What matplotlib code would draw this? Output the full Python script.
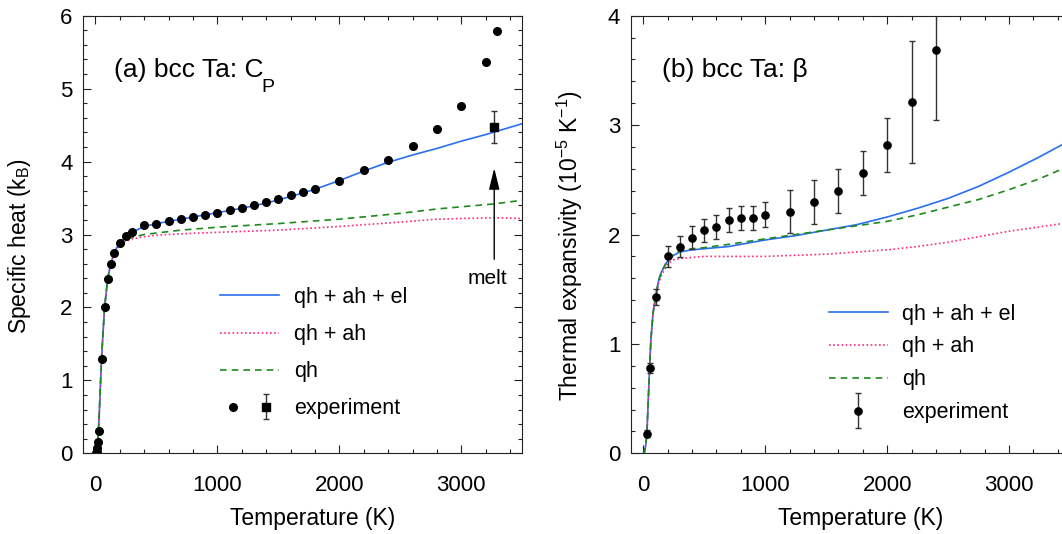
#!/usr/bin/env python3
# -*- coding: utf-8 -*-

"""
Heat capacity and thermal expansion of bcc Ta:
quasiharmonic (qh), anharmonic (ah) and electronic (el) contributions
compared with experiment.
"""

import matplotlib
matplotlib.use('Agg')
import matplotlib.pyplot as plt
from matplotlib.ticker import MultipleLocator
from matplotlib.legend_handler import HandlerTuple, HandlerErrorbar
from matplotlib.container import ErrorbarContainer

plt.rcParams['font.family'] = ['Liberation Sans', 'DejaVu Sans']
plt.rcParams['mathtext.fontset'] = 'custom'
plt.rcParams['mathtext.rm'] = 'Liberation Sans'
plt.rcParams['mathtext.it'] = 'Liberation Sans:italic'

BLUE = '#2a6ff0'
PINK = '#ff2a80'
GREEN = '#1d8a1d'

# ---- (a) specific heat, k_B per atom ----
cp_T_full = [0, 10, 20, 25, 30, 40, 50, 60, 75, 100, 125, 150, 175, 200, 250,
             300, 400, 500, 600, 700, 800, 900, 1000, 1200, 1400, 1600, 1800,
             2000, 2200, 2400, 2600, 2800, 3000, 3200, 3400, 3500]
cp_full = [0, 0.02, 0.16, 0.31, 0.5, 0.9, 1.29, 1.6, 2.0, 2.39, 2.6, 2.73, 2.82,
           2.88, 2.97, 3.03, 3.11, 3.15, 3.18, 3.21, 3.24, 3.27, 3.30, 3.36,
           3.43, 3.52, 3.62, 3.74, 3.87, 3.99, 4.09, 4.18, 4.28, 4.37, 4.47, 4.52]

cp_T_qh = [0, 10, 20, 25, 30, 40, 50, 60, 75, 100, 125, 150, 175, 200, 250,
           300, 400, 500, 700, 1000, 1500, 2000, 2500, 2800, 3000, 3270, 3500]
cp_qh = [0, 0.02, 0.16, 0.31, 0.5, 0.9, 1.29, 1.6, 2.0, 2.39, 2.6, 2.72, 2.81,
         2.87, 2.93, 2.96, 3.00, 3.02, 3.06, 3.10, 3.15, 3.21, 3.29, 3.35,
         3.38, 3.42, 3.47]
cp_T_ah = [0, 10, 20, 25, 30, 40, 50, 60, 75, 100, 125, 150, 175, 200, 250,
           300, 400, 500, 700, 1000, 1500, 2000, 2500, 2800, 3000, 3270, 3500]
cp_ah = [0, 0.02, 0.16, 0.31, 0.5, 0.9, 1.29, 1.6, 2.0, 2.39, 2.59, 2.71, 2.80,
         2.86, 2.91, 2.94, 2.97, 2.99, 3.01, 3.03, 3.06, 3.11, 3.17, 3.21,
         3.22, 3.23, 3.22]

cp_exp_T = [5, 10, 15, 20, 25, 50, 75, 100, 125, 150, 200, 250, 300, 400, 500,
            600, 700, 800, 900, 1000, 1100, 1200, 1300, 1400, 1500, 1600, 1700,
            1800, 2000, 2200, 2400, 2600, 2800, 3000, 3200, 3290]
cp_exp = [0.0, 0.02, 0.07, 0.16, 0.31, 1.29, 2.00, 2.39, 2.60, 2.74, 2.89, 2.98,
          3.04, 3.13, 3.15, 3.18, 3.21, 3.24, 3.27, 3.30, 3.33, 3.36, 3.40,
          3.44, 3.48, 3.54, 3.58, 3.63, 3.74, 3.88, 4.02, 4.21, 4.44, 4.76,
          5.36, 5.79]

cp_melt_T = [3270]
cp_melt = [4.47]
cp_melt_err = [0.22]
T_melt = 3270

# ---- (b) thermal expansivity, 1e-5 / K ----
b_T_full = [0, 8, 20, 30, 40, 52, 63, 80, 104, 126, 150, 200, 250, 300, 400,
            500, 700, 1000, 1250, 1500, 1750, 2000, 2250, 2500, 2750, 3000,
            3250, 3500]
b_full = [0, 0, 0.07, 0.18, 0.45, 0.78, 1.04, 1.28, 1.45, 1.58, 1.66, 1.76,
          1.81, 1.84, 1.86, 1.87, 1.89, 1.95, 1.99, 2.04, 2.09, 2.16, 2.24,
          2.33, 2.44, 2.57, 2.71, 2.86]
b_T_qh = [0, 8, 20, 30, 40, 52, 63, 80, 104, 126, 150, 200, 250, 300, 400,
          500, 700, 1000, 1250, 1500, 1750, 2000, 2250, 2500, 2750, 3000,
          3250, 3500]
b_qh = [0, 0, 0.07, 0.18, 0.45, 0.78, 1.04, 1.28, 1.45, 1.58, 1.66, 1.77,
        1.82, 1.85, 1.87, 1.88, 1.91, 1.96, 2.00, 2.04, 2.08, 2.12, 2.18,
        2.25, 2.32, 2.41, 2.51, 2.63]
b_T_ah = [0, 8, 20, 30, 40, 52, 63, 80, 104, 126, 150, 200, 250, 300, 500,
          1000, 1500, 1750, 2000, 2250, 2500, 2750, 3000, 3250, 3500]
b_ah = [0, 0, 0.07, 0.18, 0.45, 0.78, 1.04, 1.27, 1.43, 1.55, 1.63, 1.73,
        1.77, 1.78, 1.80, 1.80, 1.82, 1.84, 1.86, 1.89, 1.93, 1.98, 2.03,
        2.07, 2.11]

b_exp_T = [30, 52, 104, 202, 300, 400, 500, 600, 700, 800, 900, 1000, 1200,
           1400, 1600, 1800, 2000, 2200, 2400]
b_exp = [0.18, 0.78, 1.43, 1.80, 1.89, 1.97, 2.04, 2.07, 2.13, 2.15, 2.15,
         2.18, 2.21, 2.30, 2.40, 2.56, 2.82, 3.21, 3.69]
b_exp_err = [0.03, 0.05, 0.075, 0.095, 0.10, 0.105, 0.105, 0.11, 0.11, 0.11,
             0.11, 0.115, 0.195, 0.20, 0.20, 0.20, 0.245, 0.555, 0.64]

LABELS = ['qh + ah + el', 'qh + ah', 'qh', 'experiment']


def style_axes(ax, ymax):
	"""Inward ticks on all four sides."""
	ax.set_xlim(-100, 3500)
	ax.set_ylim(0, ymax)
	ax.xaxis.set_major_locator(MultipleLocator(1000))
	ax.xaxis.set_minor_locator(MultipleLocator(200))
	ax.yaxis.set_major_locator(MultipleLocator(1))
	ax.yaxis.set_minor_locator(MultipleLocator(0.2))
	ax.tick_params(which='both', direction='in', top=True, right=True,
	               width=0.8, colors='#222222', labelcolor='black')
	ax.tick_params(which='major', length=5.8, labelsize=16)
	ax.tick_params(which='minor', length=2.9)
	ax.tick_params(axis='x', which='major', pad=15.5)
	ax.tick_params(axis='y', which='major', pad=7.7)
	for sp in ax.spines.values():
		sp.set_linewidth(0.8)
		sp.set_color('#222222')
	ax.set_xlabel('Temperature (K)', fontsize=16.5)
	ax.xaxis.set_label_coords(0.523, -0.123)


def draw_cp(ax):
	l1, = ax.plot(cp_T_full, cp_full, color=BLUE, lw=1.2)
	l2, = ax.plot(cp_T_ah, cp_ah, color=PINK, lw=1.2, ls=(0, (1, 1.5)))
	l3, = ax.plot(cp_T_qh, cp_qh, color=GREEN, lw=1.2, ls=(0, (4, 3)))
	dots, = ax.plot(cp_exp_T, cp_exp, 'o', color='black', ms=5.5)
	sq = ax.errorbar(cp_melt_T, cp_melt, yerr=cp_melt_err, fmt='s', color='black',
	                 ms=5.2, ecolor='#333333', elinewidth=1.0, capsize=2.3, capthick=1.0)
	ax.annotate('', xy=(T_melt, 3.91), xytext=(T_melt, 2.66),
	            arrowprops=dict(arrowstyle='-|>,head_length=1.3,head_width=0.32',
	                            color='black', lw=1.0, shrinkA=0, shrinkB=0,
	                            mutation_scale=10))
	ax.text(3216, 2.39, 'melt', fontsize=15, ha='center', va='center')
	# panel tag, with a dropped subscript on C
	tag = ax.text(0.069, 0.859, '(a) bcc Ta: C', fontsize=19,
	              transform=ax.transAxes, va='baseline')
	ax.annotate('P', xy=(1, 0), xycoords=tag, xytext=(-1.5, -7),
	            textcoords='offset points', fontsize=14, va='baseline')
	style_axes(ax, 6)
	ax.set_ylabel(r'Specific heat (k$_\mathregular{B}$)', fontsize=16.5)
	ax.yaxis.set_label_coords(-0.114, 0.474)
	ax.legend([l1, l2, l3, (dots, sq)], LABELS, loc='upper left',
	          bbox_to_anchor=(0.312, 0.380), frameon=False, fontsize=15.5,
	          borderpad=0, borderaxespad=0, handlelength=2.74,
	          handletextpad=0.67, labelspacing=0.75,
	          handler_map={tuple: HandlerTuple(ndivide=None, pad=0.3),
	                       ErrorbarContainer: HandlerErrorbar(yerr_size=0.58)})


def draw_beta(ax):
	l1, = ax.plot(b_T_full, b_full, color=BLUE, lw=1.2)
	l2, = ax.plot(b_T_ah, b_ah, color=PINK, lw=1.2, ls=(0, (1, 1.5)))
	l3, = ax.plot(b_T_qh, b_qh, color=GREEN, lw=1.2, ls=(0, (4, 3)))
	ex = ax.errorbar(b_exp_T, b_exp, yerr=b_exp_err, fmt='o', color='black',
	                 ms=5.2, ecolor='#333333', elinewidth=1.0, capsize=2.3,
	                 capthick=1.0)
	ax.text(0.070, 0.859, '(b) bcc Ta: β', fontsize=19,
	        transform=ax.transAxes, va='baseline')
	style_axes(ax, 4)
	ax.set_ylabel(r'Thermal expansivity (10$^\mathregular{-5}$ K$^\mathregular{-1}$)',
	              fontsize=16.5)
	ax.yaxis.set_label_coords(-0.105, 0.474)
	ax.legend([l1, l2, l3, ex], LABELS, loc='upper left',
	          bbox_to_anchor=(0.450, 0.342), frameon=False, fontsize=15.5,
	          borderpad=0, borderaxespad=0, handlelength=2.74,
	          handletextpad=0.67, labelspacing=0.55,
	          handler_map={ErrorbarContainer: HandlerErrorbar(yerr_size=0.8)})


def main():
	fig = plt.figure(figsize=(10.62, 5.34), dpi=100)
	ax_a = fig.add_axes([0.0784, 0.1511, 0.4134, 0.8195])
	ax_b = fig.add_axes([0.5942, 0.1511, 0.4134, 0.8195])
	draw_cp(ax_a)
	draw_beta(ax_b)
	fig.savefig('out.png', dpi=100)
	plt.close(fig)


if __name__ == '__main__':
	main()
